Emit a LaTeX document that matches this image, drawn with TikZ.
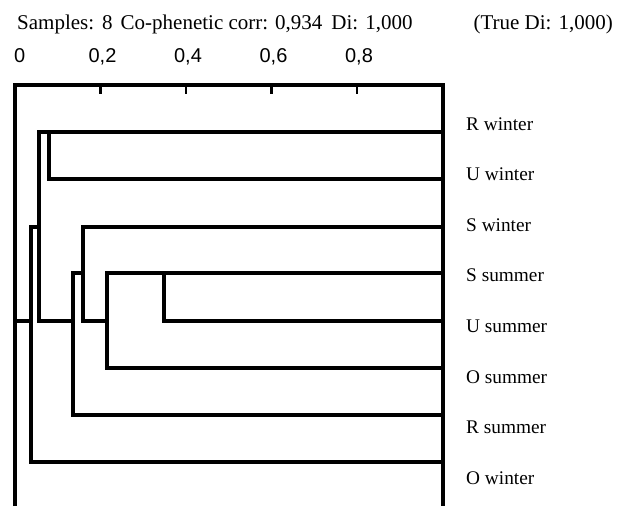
\documentclass[tikz,border=0pt]{standalone}
\usepackage{fontspec}
\setmainfont{Liberation Serif}
\newfontfamily\numfont{Liberation Sans}

\begin{document}
\begin{tikzpicture}[x=1pt, y=-1pt,
 dend/.style={black, line width=3.3pt},
 lab/.style={anchor=base west, inner sep=0pt, font=\fontsize{19.3}{22}\selectfont},
 num/.style={anchor=base, inner sep=0pt, font=\numfont\fontsize{20}{23}\selectfont},
 hdr/.style={inner sep=0pt, font=\fontsize{21}{24}\selectfont}]
\useasboundingbox (0,0) rectangle (620,506);

\node[hdr, anchor=base west] (info) at (17,29) {Samples:\hspace{8pt}8\hspace{8pt}Co-phenetic corr: 0,934\hspace{9pt}Di: 1,000};
\node[hdr, anchor=base east] (true) at (613,29) {(True Di: 1,000)};

\draw[dend] (15,506) |- (443,85) -- (443,506);
\node[num, anchor=base west] (t0) at (14,62) {0};
\foreach \i [evaluate=\i as \xi using 15+85.5*\i, evaluate=\i as \d using int(2*\i)] in {1,...,4}
 {\draw[black, line width=2.5pt] (\xi,85)--++(0,9);
  \node[num] (t\i) at (\xi+2,62) {0,\d};}

\foreach \n/\y/\t [count=\i from 0] in {rw/132/R winter, uw/179/U winter, sw/227/S winter, ss/273/S summer, us/321/U summer, os/368/O summer, rs/415/R summer, ow/462/O winter}
 {\coordinate (\n) at (443,\y);
  \node[lab] (t-\n) at (466,130+50.6*\i) {\t};}

\coordinate (j1) at (49,132);
\coordinate (j2) at (164,273);
\coordinate (j3) at (107,321);
\coordinate (j4) at (83,273);
\coordinate (j5) at (73,321);
\coordinate (j6) at (39,227);
\coordinate (j7) at (31,321);
\coordinate (root) at (15,321);

\draw[dend] (rw) -| (j1) |- (uw);
\draw[dend] (ss) -| (j2) |- (us);
\draw[dend] (j2) -| (j3) |- (os);
\draw[dend] (sw) -| (j4) |- (j3);
\draw[dend] (j4) -| (j5) |- (rs);
\draw[dend] (j1) -| (j6) |- (j5);
\draw[dend] (j6) -| (j7) |- (ow);
\draw[dend] (root) -- (j7);

\end{tikzpicture}
\end{document}
